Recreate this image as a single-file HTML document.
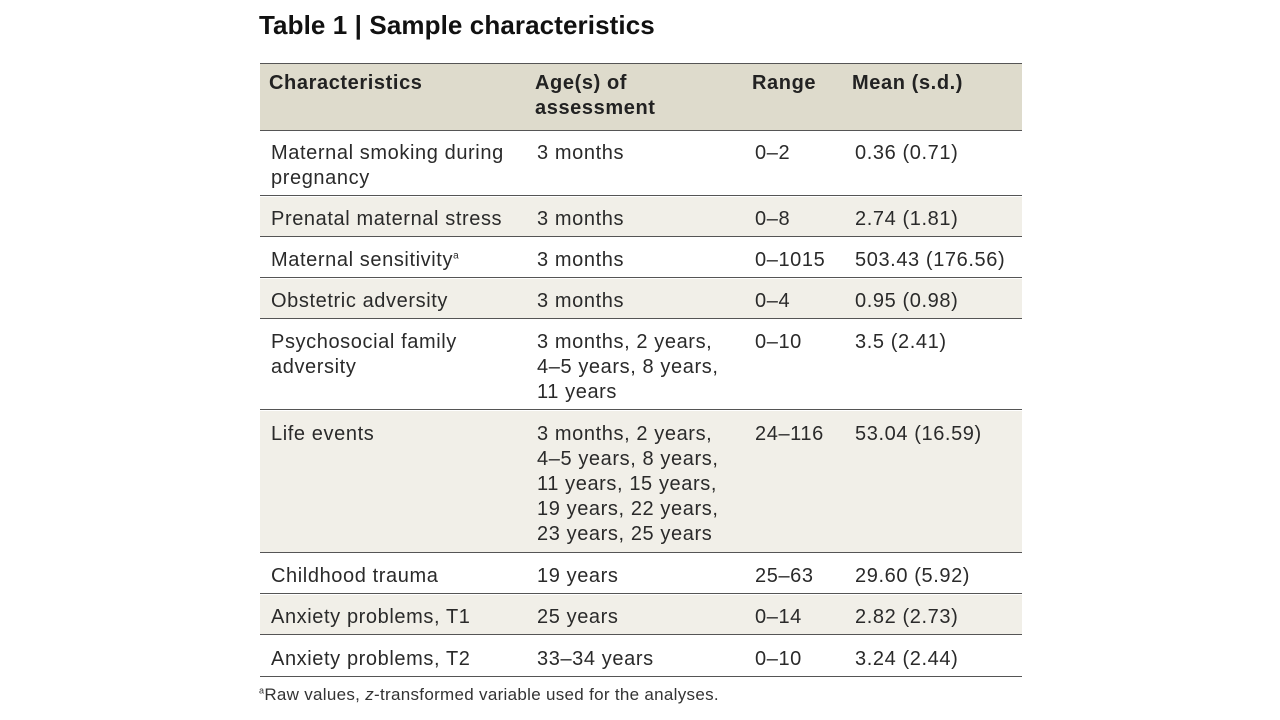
<!DOCTYPE html>
<html><head><style>
body{margin:0;width:1280px;height:720px;background:#fff;font-family:"Liberation Sans",sans-serif;position:relative;overflow:hidden;color:#222}
.t{position:absolute;left:259px;top:10px;font-size:26px;font-weight:bold;letter-spacing:0.1px;color:#111}
.r{position:absolute;left:260px;width:762px;border-bottom:1.5px solid #555}
.s{background:#f1efe8}
.c{position:absolute;font-size:20px;line-height:25px;letter-spacing:0.6px;color:#2a2a2a;white-space:nowrap}
.h{font-weight:bold;color:#222;letter-spacing:0.6px}
.f{position:absolute;left:259px;top:685px;font-size:17px;letter-spacing:0.3px;color:#333}
sup{line-height:0}
</style></head><body>
<div class="t">Table 1 | Sample characteristics</div>
<div class="r" style="top:63px;height:66px;background:#dedbcc;border-top:1.5px solid #555"></div>
<div class="r" style="top:131px;height:64px"></div>
<div class="r s" style="top:197px;height:39px"></div>
<div class="r" style="top:238px;height:39px"></div>
<div class="r s" style="top:279px;height:39px"></div>
<div class="r" style="top:320px;height:89px"></div>
<div class="r s" style="top:411px;height:141px"></div>
<div class="r" style="top:554px;height:39px"></div>
<div class="r s" style="top:595px;height:39px"></div>
<div class="r" style="top:636px;height:40px"></div>

<div class="c h" style="left:269px;top:71px">Characteristics</div>
<div class="c h" style="left:535px;top:71px">Age(s) of<br>assessment</div>
<div class="c h" style="left:752px;top:71px">Range</div>
<div class="c h" style="left:852px;top:71px">Mean (s.d.)</div>

<div class="c" style="left:271px;top:141px">Maternal smoking during<br>pregnancy</div>
<div class="c" style="left:537px;top:141px">3 months</div>
<div class="c" style="left:755px;top:141px">0–2</div>
<div class="c" style="left:855px;top:141px">0.36 (0.71)</div>

<div class="c" style="left:271px;top:207px">Prenatal maternal stress</div>
<div class="c" style="left:537px;top:207px">3 months</div>
<div class="c" style="left:755px;top:207px">0–8</div>
<div class="c" style="left:855px;top:207px">2.74 (1.81)</div>

<div class="c" style="left:271px;top:248px">Maternal sensitivity<sup style="font-size:10px">a</sup></div>
<div class="c" style="left:537px;top:248px">3 months</div>
<div class="c" style="left:755px;top:248px">0–1015</div>
<div class="c" style="left:855px;top:248px">503.43 (176.56)</div>

<div class="c" style="left:271px;top:289px">Obstetric adversity</div>
<div class="c" style="left:537px;top:289px">3 months</div>
<div class="c" style="left:755px;top:289px">0–4</div>
<div class="c" style="left:855px;top:289px">0.95 (0.98)</div>

<div class="c" style="left:271px;top:330px">Psychosocial family<br>adversity</div>
<div class="c" style="left:537px;top:330px">3 months, 2 years,<br>4–5 years, 8 years,<br>11 years</div>
<div class="c" style="left:755px;top:330px">0–10</div>
<div class="c" style="left:855px;top:330px">3.5 (2.41)</div>

<div class="c" style="left:271px;top:422px">Life events</div>
<div class="c" style="left:537px;top:422px">3 months, 2 years,<br>4–5 years, 8 years,<br>11 years, 15 years,<br>19 years, 22 years,<br>23 years, 25 years</div>
<div class="c" style="left:755px;top:422px">24–116</div>
<div class="c" style="left:855px;top:422px">53.04 (16.59)</div>

<div class="c" style="left:271px;top:564px">Childhood trauma</div>
<div class="c" style="left:537px;top:564px">19 years</div>
<div class="c" style="left:755px;top:564px">25–63</div>
<div class="c" style="left:855px;top:564px">29.60 (5.92)</div>

<div class="c" style="left:271px;top:605px">Anxiety problems, T1</div>
<div class="c" style="left:537px;top:605px">25 years</div>
<div class="c" style="left:755px;top:605px">0–14</div>
<div class="c" style="left:855px;top:605px">2.82 (2.73)</div>

<div class="c" style="left:271px;top:647px">Anxiety problems, T2</div>
<div class="c" style="left:537px;top:647px">33–34 years</div>
<div class="c" style="left:755px;top:647px">0–10</div>
<div class="c" style="left:855px;top:647px">3.24 (2.44)</div>

<div class="f"><sup style="font-size:9px">a</sup>Raw values, <i>z</i>-transformed variable used for the analyses.</div>
</body></html>
